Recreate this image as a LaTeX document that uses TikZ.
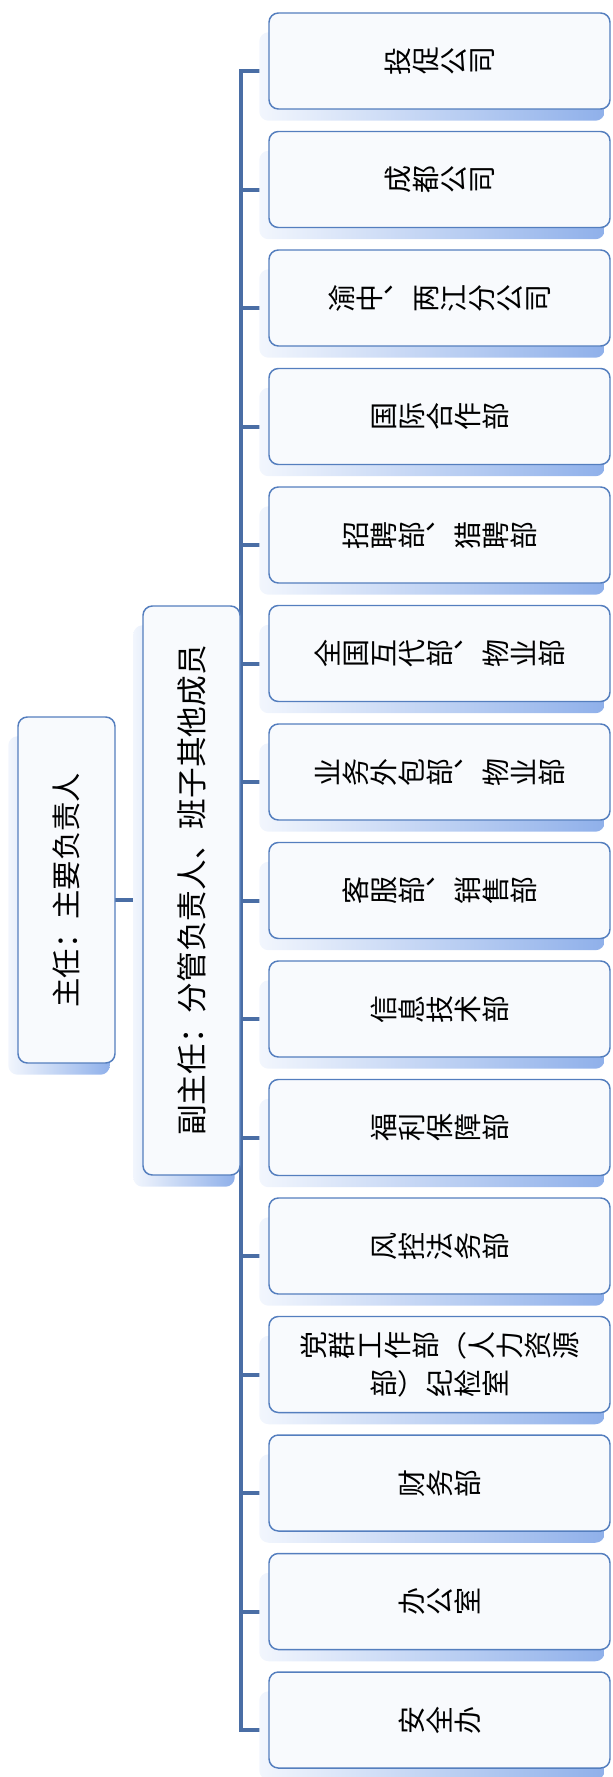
\documentclass[tikz,border=0pt]{standalone}
\usepackage{fontspec}
\newfontfamily\cjk{Noto Sans CJK SC}
\usetikzlibrary{calc}
\pgfdeclarelayer{lines}
\pgfdeclarelayer{shadows}
\pgfsetlayers{lines,shadows,main}
\definecolor{conncol}{RGB}{74,110,165}
\definecolor{bordcol}{RGB}{84,126,190}
\definecolor{boxfill}{RGB}{248,250,253}
\definecolor{shadl}{RGB}{242,246,253}
\definecolor{shadr}{RGB}{143,176,234}
\newcommand\rglyph[1]{\rotatebox[origin=c]{90}{\rule[-0.12em]{0pt}{1em}\makebox[1em]{#1}}}
\def\rotall#1{\ifx#1\relax\else\rglyph{#1}\expandafter\rotall\fi}
\newcommand\dun{\rotatebox[origin=c]{-90}{\rule[-0.12em]{0pt}{1em}\makebox[1em][l]{、}}}
\tikzset{
  boxbase/.style={draw=bordcol, line width=1.1pt, fill=boxfill, rounded corners=7pt, inner sep=0pt},
  dept/.style={boxbase, minimum width=255.75pt, minimum height=72pt, align=center,
    font=\cjk\fontsize{21}{28.5}\selectfont},
  mainbox/.style={boxbase, minimum width=72.75pt, font=\cjk\fontsize{22}{26}\selectfont},
  conn/.style={draw=conncol, line width=3pt, line cap=rect},
  shadowbox/.style={left color=shadl, right color=shadr, rounded corners=7pt}
}
\begin{document}
\begin{tikzpicture}[x=0.75pt,y=-0.75pt]
\useasboundingbox (0,0) rectangle (612,1777);
% top-level boxes
\node[mainbox, minimum height=259.5pt] (m1) at (66.5,890) {\rotatebox{90}{主任：主要负责人}};
\node[mainbox, minimum height=426.75pt, font=\cjk\fontsize{23}{27}\selectfont] (m2) at (191.5,890.5) {\rotatebox{90}{副主任：分管负责人、班子其他成员}};
% departments
\node[dept] (d0)  at (439.5,61)     {\rotall 投促公司\relax};
\node[dept] (d1)  at (439.5,179.5)  {\rotall 成都公司\relax};
\node[dept] (d2)  at (439.5,298)    {\rotall 渝中\relax\dun\rotall 两江分公司\relax};
\node[dept] (d3)  at (439.5,416.5)  {\rotall 国际合作部\relax};
\node[dept] (d4)  at (439.5,535)    {\rotall 招聘部\relax\dun\rotall 猎聘部\relax};
\node[dept] (d5)  at (439.5,653.5)  {\rotall 全国互代部\relax\dun\rotall 物业部\relax};
\node[dept] (d6)  at (439.5,772)    {\rotall 业务外包部\relax\dun\rotall 物业部\relax};
\node[dept] (d7)  at (439.5,890.5)  {\rotall 客服部\relax\dun\rotall 销售部\relax};
\node[dept] (d8)  at (439.5,1009)   {\rotall 信息技术部\relax};
\node[dept] (d9)  at (439.5,1127.5) {\rotall 福利保障部\relax};
\node[dept] (d10) at (439.5,1246)   {\rotall 风控法务部\relax};
\node[dept] (d11) at (439.5,1364.5) {\rotall 党群工作部\relax（\rotall 人力资源\relax\\\rotall 部\relax）\rotall 纪检室\relax};
\node[dept] (d12) at (439.5,1483)   {\rotall 财务部\relax};
\node[dept] (d13) at (439.5,1601.5) {\rotall 办公室\relax};
\node[dept] (d14) at (439.5,1720)   {\rotall 安全办\relax};
% shadows
\begin{pgfonlayer}{shadows}
\foreach \n in {m1,m2,d0,d1,d2,d3,d4,d5,d6,d7,d8,d9,d10,d11,d12,d13,d14}
  \shade[shadowbox] ($(\n.north west)+(-9,20)$) rectangle ($(\n.south east)+(-6,11)$);
\end{pgfonlayer}
% connectors
\begin{pgfonlayer}{lines}
\coordinate (c12) at (129,900);
\draw[conn] (m1.east |- c12) -- (m2.west |- c12);
\foreach \i in {0,...,14}{
  \coordinate (b\i) at (241,{71+118.5*\i});
  \draw[conn] (b\i) -- (d\i.west |- b\i);
}
\draw[conn] (b0) -- (b14);
\end{pgfonlayer}
\end{tikzpicture}
\end{document}
